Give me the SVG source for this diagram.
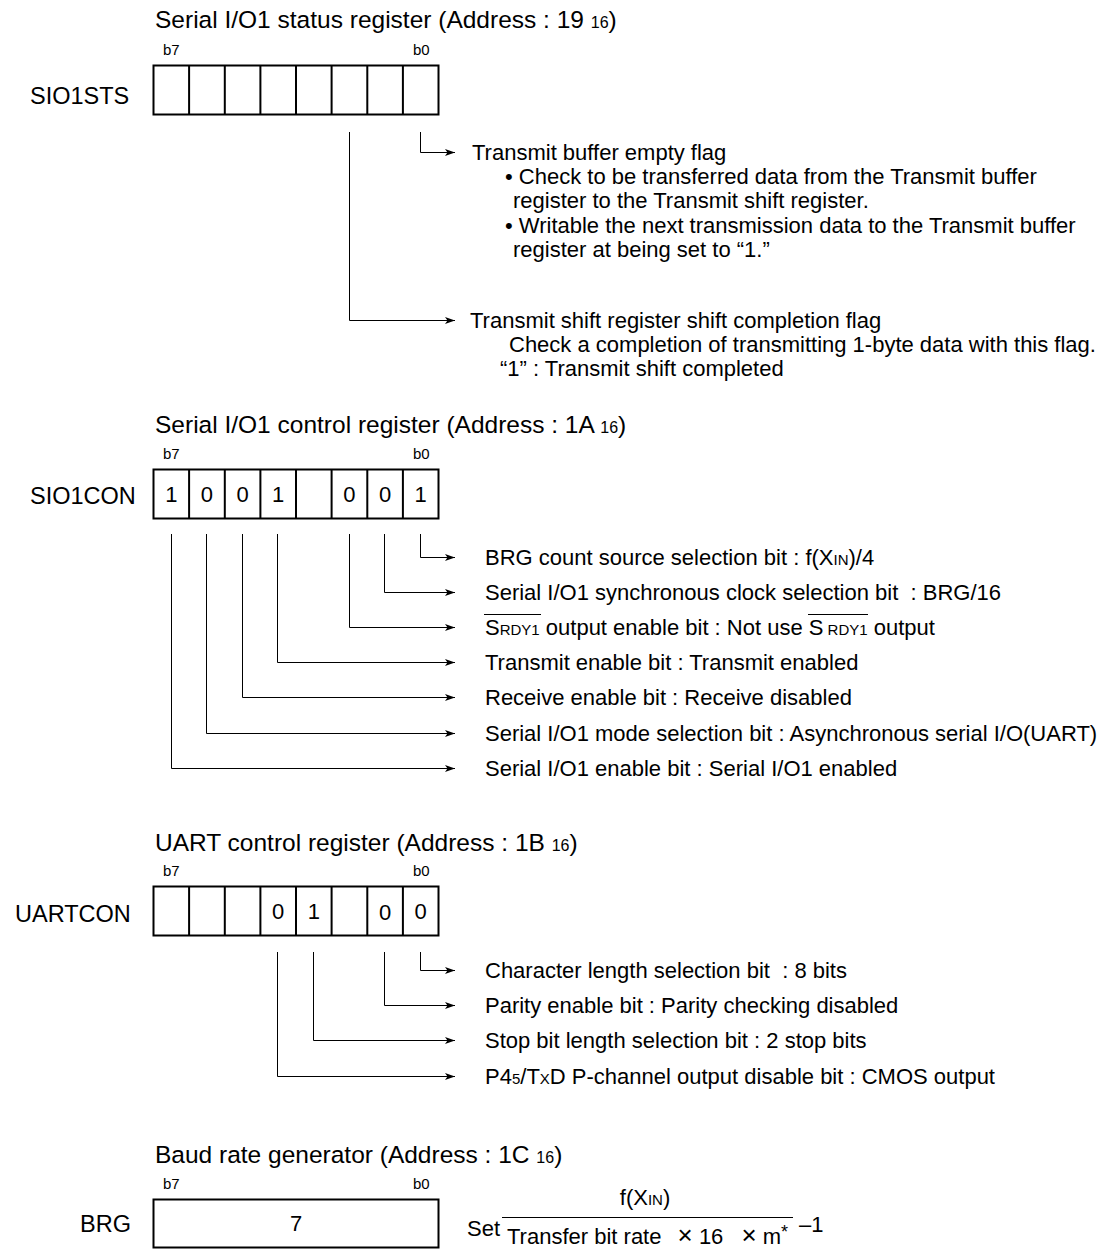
<svg xmlns="http://www.w3.org/2000/svg" width="1110" height="1255" viewBox="0 0 1110 1255">
<style>
text{font-family:"Liberation Sans",Arial,Helvetica,sans-serif;font-size:22px;fill:#000}
.ttl{font-size:24.5px}
.lbl{font-size:23.5px}
.s{font-size:15px}
.ts{font-size:16px}
.bit{font-size:15px}
.box{fill:none;stroke:#000;stroke-width:2}
.div{stroke:#000;stroke-width:2}
.c{fill:none;stroke:#000;stroke-width:1}
.ov{stroke:#000;stroke-width:1}
.v{text-anchor:middle}
</style>
<defs>
<marker id="ah" markerWidth="10" markerHeight="8" refX="10" refY="4" orient="auto" markerUnits="userSpaceOnUse">
<path d="M0,0.5 L10,4 L0,7.5 L2.5,4 z" fill="#000"/>
</marker>
<g id="cells">
<rect class="box" x="0" y="0" width="285" height="49"/>
<path class="div" d="M35.6,0V49M71.3,0V49M106.9,0V49M142.5,0V49M178.1,0V49M213.8,0V49M249.4,0V49"/>
</g>
</defs>

<!-- Section 1: SIO1STS -->
<g id="sio1sts">
<text class="ttl" x="155" y="28">Serial I/O1 status register (Address : 19 <tspan class="ts">16</tspan>)</text>
<text class="bit" x="163" y="55">b7</text>
<text class="bit" x="413" y="55">b0</text>
<text class="lbl" x="30" y="104">SIO1STS</text>
<use href="#cells" x="153.5" y="65.5"/>
</g>
<g id="sio1sts-labels">
<text x="472" y="160">Transmit buffer empty flag</text>
<text x="505" y="184">• Check to be transferred data from the Transmit buffer</text>
<text x="513" y="208">register to the Transmit shift register.</text>
<text x="505" y="233">• Writable the next transmission data to the Transmit buffer</text>
<text x="513" y="257">register at being set to “1.”</text>
<text x="470" y="328">Transmit shift register shift completion flag</text>
<text x="509" y="352">Check a completion of transmitting 1-byte data with this flag.</text>
<text x="500" y="376">“1” : Transmit shift completed</text>
</g>

<!-- Section 2: SIO1CON -->
<g id="sio1con">
<text class="ttl" x="155" y="433">Serial I/O1 control register (Address : 1A <tspan class="ts">16</tspan>)</text>
<text class="bit" x="163" y="459">b7</text>
<text class="bit" x="413" y="459">b0</text>
<text class="lbl" x="30" y="504">SIO1CON</text>
<use href="#cells" x="153.5" y="469.5"/>
<text class="v" x="171.3" y="502">1</text>
<text class="v" x="206.9" y="502">0</text>
<text class="v" x="242.6" y="502">0</text>
<text class="v" x="278.2" y="502">1</text>
<text class="v" x="349.4" y="502">0</text>
<text class="v" x="385.1" y="502">0</text>
<text class="v" x="420.7" y="502">1</text>
</g>
<g id="sio1con-labels">
<text x="485" y="565">BRG count source selection bit : f(X<tspan class="s">IN</tspan>)/4</text>
<text x="485" y="600">Serial I/O1 synchronous clock selection bit &#160;: BRG/16</text>
<text x="485" y="635">S<tspan class="s">RDY1</tspan> output enable bit : Not use S<tspan class="s"> RDY1</tspan> output</text>
<line class="ov" x1="484" y1="614.5" x2="541" y2="614.5"/>
<line class="ov" x1="808" y1="614.5" x2="868" y2="614.5"/>
<text x="485" y="670">Transmit enable bit : Transmit enabled</text>
<text x="485" y="705">Receive enable bit : Receive disabled</text>
<text x="485" y="741">Serial I/O1 mode selection bit : Asynchronous serial I/O(UART)</text>
<text x="485" y="776">Serial I/O1 enable bit : Serial I/O1 enabled</text>
</g>

<!-- Section 3: UARTCON -->
<g id="uartcon">
<text class="ttl" x="155" y="851">UART control register (Address : 1B <tspan class="ts">16</tspan>)</text>
<text class="bit" x="163" y="876">b7</text>
<text class="bit" x="413" y="876">b0</text>
<text class="lbl" x="15" y="922">UARTCON</text>
<use href="#cells" x="153.5" y="886.5"/>
<text class="v" x="278.2" y="919">0</text>
<text class="v" x="313.8" y="919">1</text>
<text class="v" x="385.1" y="920">0</text>
<text class="v" x="420.7" y="919">0</text>
</g>
<g id="uartcon-labels">
<text x="485" y="978">Character length selection bit &#160;: 8 bits</text>
<text x="485" y="1013">Parity enable bit : Parity checking disabled</text>
<text x="485" y="1048">Stop bit length selection bit : 2 stop bits</text>
<text x="485" y="1084">P4<tspan class="s">5</tspan>/T<tspan class="s">X</tspan>D P-channel output disable bit : CMOS output</text>
</g>

<!-- Section 4: BRG -->
<g id="brg">
<text class="ttl" x="155" y="1163">Baud rate generator (Address : 1C <tspan class="ts">16</tspan>)</text>
<text class="bit" x="163" y="1189">b7</text>
<text class="bit" x="413" y="1189">b0</text>
<text class="lbl" x="80" y="1232">BRG</text>
<rect class="box" x="153.5" y="1199.5" width="285" height="48"/>
<text class="v" x="296" y="1231">7</text>
</g>
<g id="formula">
<text x="467" y="1236">Set</text>
<text class="v" x="645" y="1205">f(X<tspan class="s">IN</tspan>)</text>
<line class="ov" x1="502" y1="1217.5" x2="793" y2="1217.5"/>
<text x="507" y="1244">Transfer bit rate <tspan font-size="26" dx="10">×</tspan> 16 <tspan font-size="26" dx="12">×</tspan> m<tspan font-size="18" dy="-6">*</tspan></text>
<text x="799" y="1232">–1</text>
</g>

<!-- Connectors -->
<g id="connectors">
<path class="c" d="M420.5,132V152.5H455" marker-end="url(#ah)"/>
<path class="c" d="M349.5,132V320.5H455" marker-end="url(#ah)"/>

<path class="c" d="M420.5,534V557.5H455" marker-end="url(#ah)"/>
<path class="c" d="M384.5,534V592.5H455" marker-end="url(#ah)"/>
<path class="c" d="M349.5,534V627.5H455" marker-end="url(#ah)"/>
<path class="c" d="M277.5,534V662.5H455" marker-end="url(#ah)"/>
<path class="c" d="M242.5,534V697.5H455" marker-end="url(#ah)"/>
<path class="c" d="M206.5,534V733.5H455" marker-end="url(#ah)"/>
<path class="c" d="M171.5,534V768.5H455" marker-end="url(#ah)"/>

<path class="c" d="M420.5,952V970.5H455" marker-end="url(#ah)"/>
<path class="c" d="M384.5,952V1005.5H455" marker-end="url(#ah)"/>
<path class="c" d="M313.5,952V1040.5H455" marker-end="url(#ah)"/>
<path class="c" d="M277.5,952V1076.5H455" marker-end="url(#ah)"/>
</g>
</svg>
